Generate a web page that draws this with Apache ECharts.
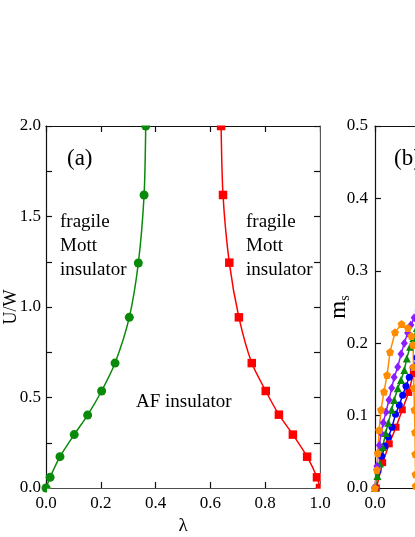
<!DOCTYPE html>
<html>
<head>
<meta charset="utf-8">
<script src="https://cdn.jsdelivr.net/npm/echarts@6/dist/echarts.min.js"></script>
<style>
    html, body { margin: 0; padding: 0; background: #fff; }
    #phaseChart { width: 415px; height: 537px; }
</style>
</head>
<body>
<div id="phaseChart"></div>
<script>
    // panel (a): phase boundaries, lambda vs U/W
    const greenLambda = [0, 0.015, 0.051, 0.103, 0.152, 0.203, 0.252, 0.304, 0.337, 0.358, 0.364];
    const greenU = [0, 0.059, 0.173, 0.295, 0.403, 0.536, 0.69, 0.943, 1.243, 1.619, 2.0];
    const redLambda = [0.639, 0.646, 0.669, 0.704, 0.751, 0.802, 0.85, 0.901, 0.953, 0.989, 1.0];
    const redU = [2.0, 1.619, 1.245, 0.943, 0.69, 0.536, 0.405, 0.295, 0.173, 0.059, 0];

    // panel (b): m_s curves, only the start of it fits in the picture
    const bOrangeX = [0, 0.007, 0.010, 0.015, 0.022, 0.033, 0.044, 0.055, 0.073, 0.097, 0.120, 0.133, 0.139, 0.1405, 0.142, 0.144, 0.146, 0.147, 0.148, 0.1485];
    const bOrangeY = [0, 0.025, 0.048, 0.080, 0.108, 0.133, 0.156, 0.188, 0.215, 0.2265, 0.221, 0.210, 0.1975, 0.167, 0.138, 0.108, 0.077, 0.047, 0.019, 0.003];
    const bPurpleX = [0, 0.007, 0.016, 0.022, 0.030, 0.040, 0.051, 0.061, 0.070, 0.083, 0.095, 0.107, 0.119, 0.131, 0.143, 0.157];
    const bPurpleY = [0, 0.030, 0.059, 0.076, 0.090, 0.105, 0.1215, 0.138, 0.153, 0.167, 0.185, 0.200, 0.214, 0.225, 0.235, 0.2445];
    const bGreenX = [0, 0.009, 0.018, 0.028, 0.039, 0.0485, 0.061, 0.070, 0.083, 0.095, 0.107, 0.116, 0.128, 0.140, 0.153];
    const bGreenY = [0, 0.0166, 0.034, 0.0566, 0.076, 0.090, 0.108, 0.1215, 0.1377, 0.149, 0.163, 0.179, 0.195, 0.207, 0.221];
    const bBlueX = [0, 0.011, 0.0245, 0.0365, 0.049, 0.062, 0.075, 0.0887, 0.101, 0.113, 0.125, 0.139, 0.153];
    const bBlueY = [0, 0.0235, 0.044, 0.058, 0.0705, 0.084, 0.102, 0.1146, 0.128, 0.141, 0.153, 0.166, 0.180];
    const bRedX = [0.005, 0.028, 0.052, 0.0766, 0.0996, 0.123, 0.140, 0.160];
    const bRedY = [0, 0.035, 0.061, 0.084, 0.108, 0.132, 0.158, 0.184];

    const FONT = '"Liberation Serif", "Times New Roman", serif';
    const pentagon = 'path://M0,-1 L0.951,-0.309 L0.588,0.809 L-0.588,0.809 L-0.951,-0.309 Z';

    // plot box of panel (a), also used for the white masks that cut markers at the frame
    const A = { left: 46, top: 126, width: 274, height: 362 };

    function pairs(xs, ys) {
        return xs.map(function (x, i) { return [x, ys[i]]; });
    }

    function frameAxis(extra) {
        return Object.assign({
            type: 'value',
            nameMoveOverlap: false,
            axisLine: { show: true, onZero: false, lineStyle: { color: '#111', width: 1.2 } },
            axisTick: { show: true, inside: true, length: 6, lineStyle: { color: '#111', width: 1.2 } },
            splitLine: { show: false },
            axisLabel: { show: false }
        }, extra);
    }

    function oneDecimal(step) {
        return function (v) {
            const k = v / step;
            return Math.abs(k - Math.round(k)) < 1e-6 ? v.toFixed(1) : '';
        };
    }

    const labelStyle = { show: true, color: '#000', fontFamily: FONT, fontSize: 17, margin: 7 };
    const mask = { fill: '#fff' };

    let chart = echarts.init(document.getElementById('phaseChart'));

    const option = {
        animation: false,
        backgroundColor: '#fff',
        grid: [
            { left: A.left, top: A.top, width: A.width, height: A.height, containLabel: false, outerBoundsMode: 'none' },
            { left: 375, top: 126, width: 274, height: 362, containLabel: false, outerBoundsMode: 'none' }
        ],
        xAxis: [
            frameAxis({ gridIndex: 0, position: 'bottom', min: 0, max: 1, interval: 0.2,
                axisLabel: Object.assign({}, labelStyle, { formatter: oneDecimal(0.2) }),
                name: 'λ', nameLocation: 'middle', nameGap: 29,
                nameTextStyle: { color: '#000', fontFamily: FONT, fontSize: 19 } }),
            frameAxis({ gridIndex: 0, position: 'top', min: 0, max: 1, interval: 0.2 }),
            frameAxis({ gridIndex: 1, position: 'bottom', min: 0, max: 1, interval: 0.2,
                axisLabel: Object.assign({}, labelStyle, { formatter: oneDecimal(0.2) }) }),
            frameAxis({ gridIndex: 1, position: 'top', min: 0, max: 1, interval: 0.2 })
        ],
        yAxis: [
            frameAxis({ gridIndex: 0, position: 'left', min: 0, max: 2, interval: 0.25,
                axisLabel: Object.assign({}, labelStyle, { margin: 5, formatter: oneDecimal(0.5) }),
                name: 'U/W', nameLocation: 'middle', nameGap: 26,
                nameTextStyle: { color: '#000', fontFamily: FONT, fontSize: 18 } }),
            frameAxis({ gridIndex: 0, position: 'right', min: 0, max: 2, interval: 0.25 }),
            frameAxis({ gridIndex: 1, position: 'left', min: 0, max: 0.5, interval: 0.1,
                axisLabel: Object.assign({}, labelStyle, { margin: 7, formatter: oneDecimal(0.1) }),
                name: '{m|m}{s|s}', nameLocation: 'middle', nameGap: 23,
                nameTextStyle: { color: '#000', fontFamily: FONT,
                    rich: {
                        m: { fontFamily: FONT, fontSize: 23, color: '#000', lineHeight: 26 },
                        s: { fontFamily: FONT, fontSize: 14, color: '#000', lineHeight: 26, verticalAlign: 'bottom', padding: [10, 0, 0, 0] }
                    } } }),
            frameAxis({ gridIndex: 1, position: 'right', min: 0, max: 0.5, interval: 0.1 })
        ],
        graphic: [
            // markers sitting on the frame are cut in half, as in the original plot
            { type: 'rect', z: 100, silent: true, shape: { x: A.left + 1, y: A.top - 14, width: A.width - 2, height: 13.4 }, style: mask },
            { type: 'rect', z: 100, silent: true, shape: { x: A.left + A.width + 0.7, y: A.top - 14, width: 12, height: A.height + 20 }, style: mask },
            { type: 'rect', z: 100, silent: true, shape: { x: A.left + 1, y: A.top + A.height + 0.7, width: A.width + 12, height: 5.5 }, style: mask },
            { type: 'text', left: 67, top: 147, style: { text: '(a)', font: '23px ' + FONT, fill: '#000' } },
            { type: 'text', left: 394, top: 147, style: { text: '(b)', font: '23px ' + FONT, fill: '#000' } },
            { type: 'text', left: 60, top: 210, style: { text: 'fragile\nMott\ninsulator', font: '19px ' + FONT, lineHeight: 24, fill: '#000' } },
            { type: 'text', left: 246, top: 210, style: { text: 'fragile\nMott\ninsulator', font: '19px ' + FONT, lineHeight: 24, fill: '#000' } },
            { type: 'text', left: 136, top: 393, style: { text: 'AF insulator', font: '19px ' + FONT, fill: '#000' } }
        ],
        series: [
            { name: 'left boundary', type: 'line', xAxisIndex: 0, yAxisIndex: 0, smooth: 0.25,
                data: pairs(greenLambda, greenU), symbol: 'circle', symbolSize: 9,
                itemStyle: { color: '#0a8a0a' }, lineStyle: { color: '#0a8a0a', width: 1.5 } },
            { name: 'right boundary', type: 'line', xAxisIndex: 0, yAxisIndex: 0, smooth: 0.25,
                data: pairs(redLambda, redU), symbol: 'rect', symbolSize: 8.5,
                itemStyle: { color: '#ff0000' }, lineStyle: { color: '#ff0000', width: 1.5 } },
            { type: 'line', xAxisIndex: 2, yAxisIndex: 2, data: pairs(bRedX, bRedY), symbol: 'rect', symbolSize: 7,
                itemStyle: { color: '#ff0000' }, lineStyle: { color: '#ff0000', width: 1.5 } },
            { type: 'line', xAxisIndex: 2, yAxisIndex: 2, data: pairs(bBlueX, bBlueY), symbol: 'circle', symbolSize: 7,
                itemStyle: { color: '#0000ff' }, lineStyle: { color: '#0000ff', width: 1.5 } },
            { type: 'line', xAxisIndex: 2, yAxisIndex: 2, data: pairs(bGreenX, bGreenY), symbol: 'triangle', symbolSize: 8,
                itemStyle: { color: '#0a8a0a' }, lineStyle: { color: '#0a8a0a', width: 1.5 } },
            { type: 'line', xAxisIndex: 2, yAxisIndex: 2, data: pairs(bPurpleX, bPurpleY), symbol: 'diamond', symbolSize: [7, 9],
                itemStyle: { color: '#8a1cff' }, lineStyle: { color: '#8a1cff', width: 1.5 } },
            { type: 'line', xAxisIndex: 2, yAxisIndex: 2, data: pairs(bOrangeX, bOrangeY), symbol: pentagon, symbolSize: 8,
                itemStyle: { color: '#ff8c00' }, lineStyle: { color: '#ff8c00', width: 1.5 } }
        ]
    };

    chart.setOption(option);

    window.addEventListener('resize', function () {
        chart.resize();
    });
</script>
</body>
</html>
